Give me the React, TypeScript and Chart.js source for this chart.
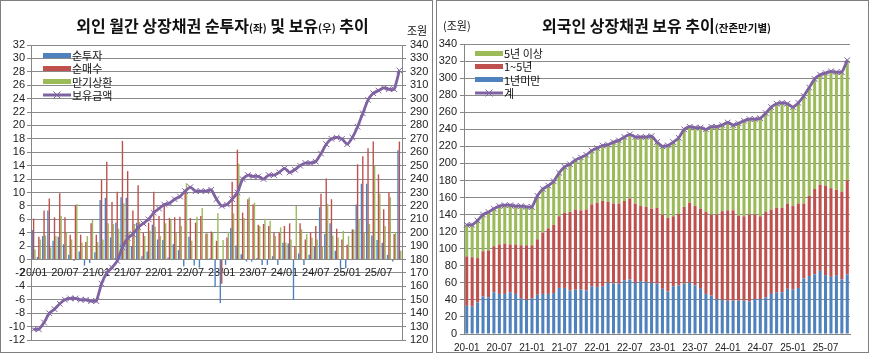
import React, { useEffect, useRef } from "react";
import { Chart, registerables } from "chart.js";

Chart.register(...registerables);

// ---------- data ----------
const MONTHS: string[] = [
  "20-01","20-02","20-03","20-04","20-05","20-06","20-07","20-08","20-09","20-10","20-11","20-12",
  "21-01","21-02","21-03","21-04","21-05","21-06","21-07","21-08","21-09","21-10","21-11","21-12",
  "22-01","22-02","22-03","22-04","22-05","22-06","22-07","22-08","22-09","22-10","22-11","22-12",
  "23-01","23-02","23-03","23-04","23-05","23-06","23-07","23-08","23-09","23-10","23-11","23-12",
  "24-01","24-02","24-03","24-04","24-05","24-06","24-07","24-08","24-09","24-10","24-11","24-12",
  "25-01","25-02","25-03","25-04","25-05","25-06","25-07","25-08","25-09","25-10","25-11",
];

// 보유금액 / 계 (조원)
const HOLDINGS: number[] = [
  128, 128, 133, 140, 143, 147, 150, 151, 151, 150, 150, 149,
  149, 162, 170, 174, 179, 189, 196, 199, 204, 207, 210, 215,
  218, 221, 222, 225, 227, 231, 234, 231, 231, 231, 232, 225,
  220, 221, 225, 230, 240, 243, 242, 242, 240, 243, 243, 245,
  248, 245, 247, 250, 252, 252, 253, 259, 266, 270, 271, 270,
  266, 271, 279, 289, 299, 304, 306, 308, 307, 307, 321,
];

// 순투자 (조원)
const NET_INVEST: number[] = [
  4.4, 0.4, 3.5, 7.3, 2.8, 3.4, 2.3, 0.7, -0.2, 1.2, -0.9, -0.5,
  1.1, 8.9, 9.2, 3.3, 5.5, 9.3, 9.2, 2.0, 5.5, 0.5, 1.2, 5.2,
  3.0, 2.9, 0.3, 2.3, 1.4, -1.0, 3.4, -0.9, -1.2, 0.1, 0.2, -4.1,
  -6.5, -0.8, 4.7, 2.1, 0.8, -0.3, -0.3, 0.2, -0.8, -0.8, 0.5, -0.8,
  2.5, 2.4, -6.0, 0.9, -0.8, 0.7, 2.0, 7.8, 3.8, 5.4, 1.3, -1.3,
  -1.3, 0.0, 8.2, 11.3, 11.3, 3.6, 2.9, 2.5, 0.7, -0.3, 16.3,
];

// 순매수 (조원)
const NET_BUY: number[] = [
  6.1, 3.4, 7.3, 9.1, 6.3, 9.9, 6.3, 3.7, 8.1, 3.7, 2.6, 5.4,
  3.7, 11.9, 14.6, 8.6, 10.1, 17.7, 13.2, 7.3, 11.1, 4.0, 5.5, 10.1,
  6.5, 8.3, 6.2, 6.3, 6.4, 10.4, 6.2, 5.5, 6.5, 3.9, 4.2, 2.8,
  -3.6, 3.3, 11.6, 16.4, 7.0, 9.0, 8.2, 5.2, 5.3, 5.0, 4.0, 4.0,
  5.0, 5.4, 2.0, 5.4, 3.0, 4.0, 5.0, 9.8, 12.1, 9.0, 4.6, 3.0,
  2.2, 4.5, 14.2, 15.4, 16.6, 17.6, 12.7, 7.5, 10.0, 3.8, 17.6,
];

// 만기상환 (조원)
const REDEMPTION: number[] = [
  1.5, 3.0, 3.6, 1.8, 3.5, 6.5, 4.0, 3.0, 8.3, 2.5, 3.5, 5.9,
  2.6, 3.0, 5.4, 5.3, 4.6, 8.4, 4.0, 5.3, 5.6, 3.5, 4.3, 4.9,
  3.5, 5.4, 5.9, 4.0, 5.0, 11.4, 2.8, 6.4, 7.7, 3.9, 4.0, 6.9,
  2.9, 4.1, 6.9, 14.3, 6.2, 9.3, 8.5, 5.0, 6.1, 5.8, 3.5, 4.8,
  2.5, 3.0, 8.0, 4.5, 3.8, 3.3, 3.0, 2.0, 8.3, 3.6, 3.3, 4.3,
  3.5, 4.5, 6.0, 4.1, 5.3, 14.0, 9.8, 5.0, 9.3, 4.1, 1.3,
];

// 잔존만기별 보유 (조원)
const UNDER_1Y: number[] = [
  33, 32, 37, 44, 43, 49, 47, 47, 49, 47, 42, 40,
  42, 46, 47, 47, 48, 54, 54, 51, 52, 52, 51, 56,
  55, 56, 60, 59, 59, 63, 64, 60, 62, 61, 60, 59,
  53, 50, 56, 57, 59, 60, 57, 53, 47, 45, 41, 40,
  39, 39, 39, 39, 38, 41, 41, 43, 47, 49, 49, 53,
  52, 54, 65, 68, 70, 74, 69, 67, 69, 64, 70,
];
const Y1_TO_5: number[] = [
  58, 58, 52, 53, 55, 54, 58, 59, 56, 58, 62, 64,
  62, 65, 72, 77, 80, 84, 88, 92, 94, 93, 95, 96,
  99, 100, 95, 94, 94, 93, 95, 93, 88, 88, 87, 89,
  87, 86, 82, 84, 90, 94, 93, 94, 96, 95, 99, 104,
  106, 106, 100, 99, 102, 99, 97, 100, 99, 99, 99, 100,
  98, 99, 88, 94, 100, 101, 105, 104, 100, 103, 110,
];
const OVER_5Y: number[] = [
  37, 38, 44, 43, 45, 44, 45, 45, 46, 45, 46, 45,
  45, 51, 51, 50, 51, 51, 54, 56, 58, 62, 64, 63,
  64, 65, 67, 72, 74, 75, 75, 78, 81, 82, 85, 77,
  80, 85, 87, 89, 91, 89, 92, 95, 97, 103, 103, 101,
  103, 100, 108, 112, 112, 112, 115, 116, 120, 122, 123, 117,
  116, 118, 126, 127, 129, 129, 132, 137, 138, 140, 141,
];

// ---------- styles ----------
const BLUE = "#4F81BD";
const RED = "#C0504D";
const GREEN = "#9BBB59";
const PURPLE = "#7F62A1";
const GRID = "#8a8a8a";
const AXIS = "#868686";
const KR = '"Noto Sans CJK KR", "Noto Sans", sans-serif';
const NUM = '"Liberation Sans", "Noto Sans CJK KR", sans-serif';

const tickFont = { family: NUM, size: 11 };

function LeftChart() {
  const ref = useRef<HTMLCanvasElement>(null);
  useEffect(() => {
    const chart = new Chart(ref.current!, {
      type: "bar",
      data: {
        labels: MONTHS,
        datasets: [
          { type: "line", label: "보유금액", data: HOLDINGS, yAxisID: "y1", order: 0,
            borderColor: PURPLE, borderWidth: 2.8, tension: 0.15,
            pointStyle: "crossRot", pointRadius: 4, pointBorderWidth: 1,
            pointBorderColor: PURPLE, pointBackgroundColor: PURPLE } as any,
          { label: "순투자", data: NET_INVEST, backgroundColor: BLUE, yAxisID: "y", order: 1 },
          { label: "순매수", data: NET_BUY, backgroundColor: RED, yAxisID: "y", order: 1 },
          { label: "만기상환", data: REDEMPTION, backgroundColor: GREEN, yAxisID: "y", order: 1 },
        ],
      },
      options: {
        animation: false,
        responsive: false,
        maintainAspectRatio: false,
        layout: { padding: { top: 45, bottom: 13, left: 0, right: 0 } },
        datasets: { bar: { categoryPercentage: 0.8, barPercentage: 1 } },
        plugins: { legend: { display: false }, tooltip: { enabled: false } },
        scales: {
          x: {
            type: "category",
            position: { y: 0 } as any,
            grid: { display: false, drawTicks: false },
            border: { display: false },
            ticks: {
              autoSkip: false, maxRotation: 0, minRotation: 0, padding: 7,
              font: { family: NUM, size: 11 }, color: "#222",
              callback: (_v: any, i: number) => (i % 6 === 0 ? MONTHS[i].replace("-", "/") : null),
            },
            afterFit: (s: any) => { s.height = 0; },
          },
          y: {
            position: "left", min: -12, max: 32,
            ticks: { stepSize: 2, autoSkip: false, font: tickFont, color: "#222", padding: 2 },
            grid: { color: GRID, tickLength: 4, tickColor: AXIS },
            border: { color: AXIS },
            afterFit: (s: any) => { s.width = 31; },
          },
          y1: {
            position: "right", min: 120, max: 340,
            ticks: { stepSize: 10, autoSkip: false, font: tickFont, color: "#222", padding: 4 },
            grid: { drawOnChartArea: false, tickLength: 4, color: AXIS },
            border: { color: AXIS },
            afterFit: (s: any) => { s.width = 31; },
          },
        },
      } as any,
    });
    return () => chart.destroy();
  }, []);
  return <canvas ref={ref} width={433} height={353}
    style={{ position: "absolute", left: 0, top: 0, width: 433, height: 353 }} />;
}

function RightChart() {
  const ref = useRef<HTMLCanvasElement>(null);
  useEffect(() => {
    const chart = new Chart(ref.current!, {
      type: "bar",
      data: {
        labels: MONTHS,
        datasets: [
          { type: "line", label: "계", data: HOLDINGS, stack: "total", order: 0,
            borderColor: PURPLE, borderWidth: 2.8, tension: 0.15,
            pointStyle: "crossRot", pointRadius: 4, pointBorderWidth: 1,
            pointBorderColor: PURPLE, pointBackgroundColor: PURPLE } as any,
          { label: "1년미만", data: UNDER_1Y, backgroundColor: BLUE, stack: "s", order: 1 },
          { label: "1~5년", data: Y1_TO_5, backgroundColor: RED, stack: "s", order: 1 },
          { label: "5년 이상", data: OVER_5Y, backgroundColor: GREEN, stack: "s", order: 1 },
        ],
      },
      options: {
        animation: false,
        responsive: false,
        maintainAspectRatio: false,
        layout: { padding: { top: 44, bottom: 0, left: 0, right: 19 } },
        datasets: { bar: { categoryPercentage: 1, barPercentage: 0.56 } },
        plugins: { legend: { display: false }, tooltip: { enabled: false } },
        scales: {
          x: {
            type: "category", stacked: true,
            grid: { display: false, drawTicks: false },
            border: { color: AXIS },
            ticks: {
              autoSkip: false, maxRotation: 0, minRotation: 0, padding: 8,
              font: { family: NUM, size: 10 }, color: "#222",
              callback: (_v: any, i: number) => (i % 6 === 0 ? MONTHS[i] : null),
            },
            afterFit: (s: any) => { s.height = 19; },
          },
          y: {
            position: "left", min: 0, max: 340, stacked: true,
            ticks: { stepSize: 20, autoSkip: false, font: tickFont, color: "#222", padding: 3 },
            grid: { color: GRID, tickLength: 4, tickColor: AXIS },
            border: { color: AXIS },
            afterFit: (s: any) => { s.width = 28; },
          },
        },
      } as any,
    });
    return () => chart.destroy();
  }, []);
  return <canvas ref={ref} width={433} height={353}
    style={{ position: "absolute", left: 436, top: 0, width: 433, height: 353 }} />;
}

type LegendItem = { label: string; color: string; line?: boolean };

function Legend({ items, left, top, step }: { items: LegendItem[]; left: number; top: number; step: number }) {
  return (
    <>
      {items.map((it, k) => (
        <div key={it.label} style={{ position: "absolute", left, top: top + k * step, height: 12,
          display: "flex", alignItems: "center", whiteSpace: "nowrap" }}>
          {it.line ? (
            <svg width={28} height={10} style={{ display: "block" }}>
              <line x1={0} y1={5} x2={28} y2={5} stroke={it.color} strokeWidth={3} />
              <path d="M10.5 1.5 L17.5 8.5 M17.5 1.5 L10.5 8.5" stroke={it.color} strokeWidth={1} />
            </svg>
          ) : (
            <div style={{ width: 28, height: 5, background: it.color }} />
          )}
          <span style={{ fontFamily: KR, fontSize: 11, lineHeight: "12px", color: "#111", marginLeft: 1 }}>{it.label}</span>
        </div>
      ))}
    </>
  );
}

export default function App() {
  const panel: React.CSSProperties = { position: "absolute", top: 0, width: 431, height: 351,
    border: "1px solid #7f7f7f", pointerEvents: "none" };
  return (
    <div style={{ position: "absolute", left: 0, top: 0, width: 870, height: 354, background: "#fff", overflow: "hidden" }}>
      <LeftChart />
      <RightChart />
      <div style={{ ...panel, left: 0 }} />
      <div style={{ ...panel, left: 436 }} />

      {/* left title */}
      <div style={{ position: "absolute", left: 6, top: 15, width: 433, textAlign: "center",
        fontFamily: KR, fontWeight: 700, fontSize: 16, lineHeight: "20px", color: "#111", whiteSpace: "nowrap" }}>
        외인 월간 상장채권 순투자<span style={{ fontSize: 10.5 }}>(좌)</span> 및 보유<span style={{ fontSize: 10.5 }}>(우)</span> 추이
      </div>
      <div style={{ position: "absolute", left: 407, top: 23, fontFamily: KR, fontSize: 11, lineHeight: "14px", color: "#111" }}>조원</div>

      {/* right title */}
      <div style={{ position: "absolute", left: 440, top: 15, width: 433, textAlign: "center",
        fontFamily: KR, fontWeight: 700, fontSize: 16, lineHeight: "20px", color: "#111", whiteSpace: "nowrap" }}>
        외국인 상장채권 보유 추이<span style={{ fontSize: 10.5 }}>(잔존만기별)</span>
      </div>
      <div style={{ position: "absolute", left: 443, top: 18, fontFamily: KR, fontSize: 11, lineHeight: "14px", color: "#111" }}>(조원)</div>

      <Legend left={43} top={49} step={13.4} items={[
        { label: "순투자", color: BLUE },
        { label: "순매수", color: RED },
        { label: "만기상환", color: GREEN },
        { label: "보유금액", color: PURPLE, line: true },
      ]} />
      <Legend left={475} top={47} step={13.4} items={[
        { label: "5년 이상", color: GREEN },
        { label: "1~5년", color: RED },
        { label: "1년미만", color: BLUE },
        { label: "계", color: PURPLE, line: true },
      ]} />
    </div>
  );
}
